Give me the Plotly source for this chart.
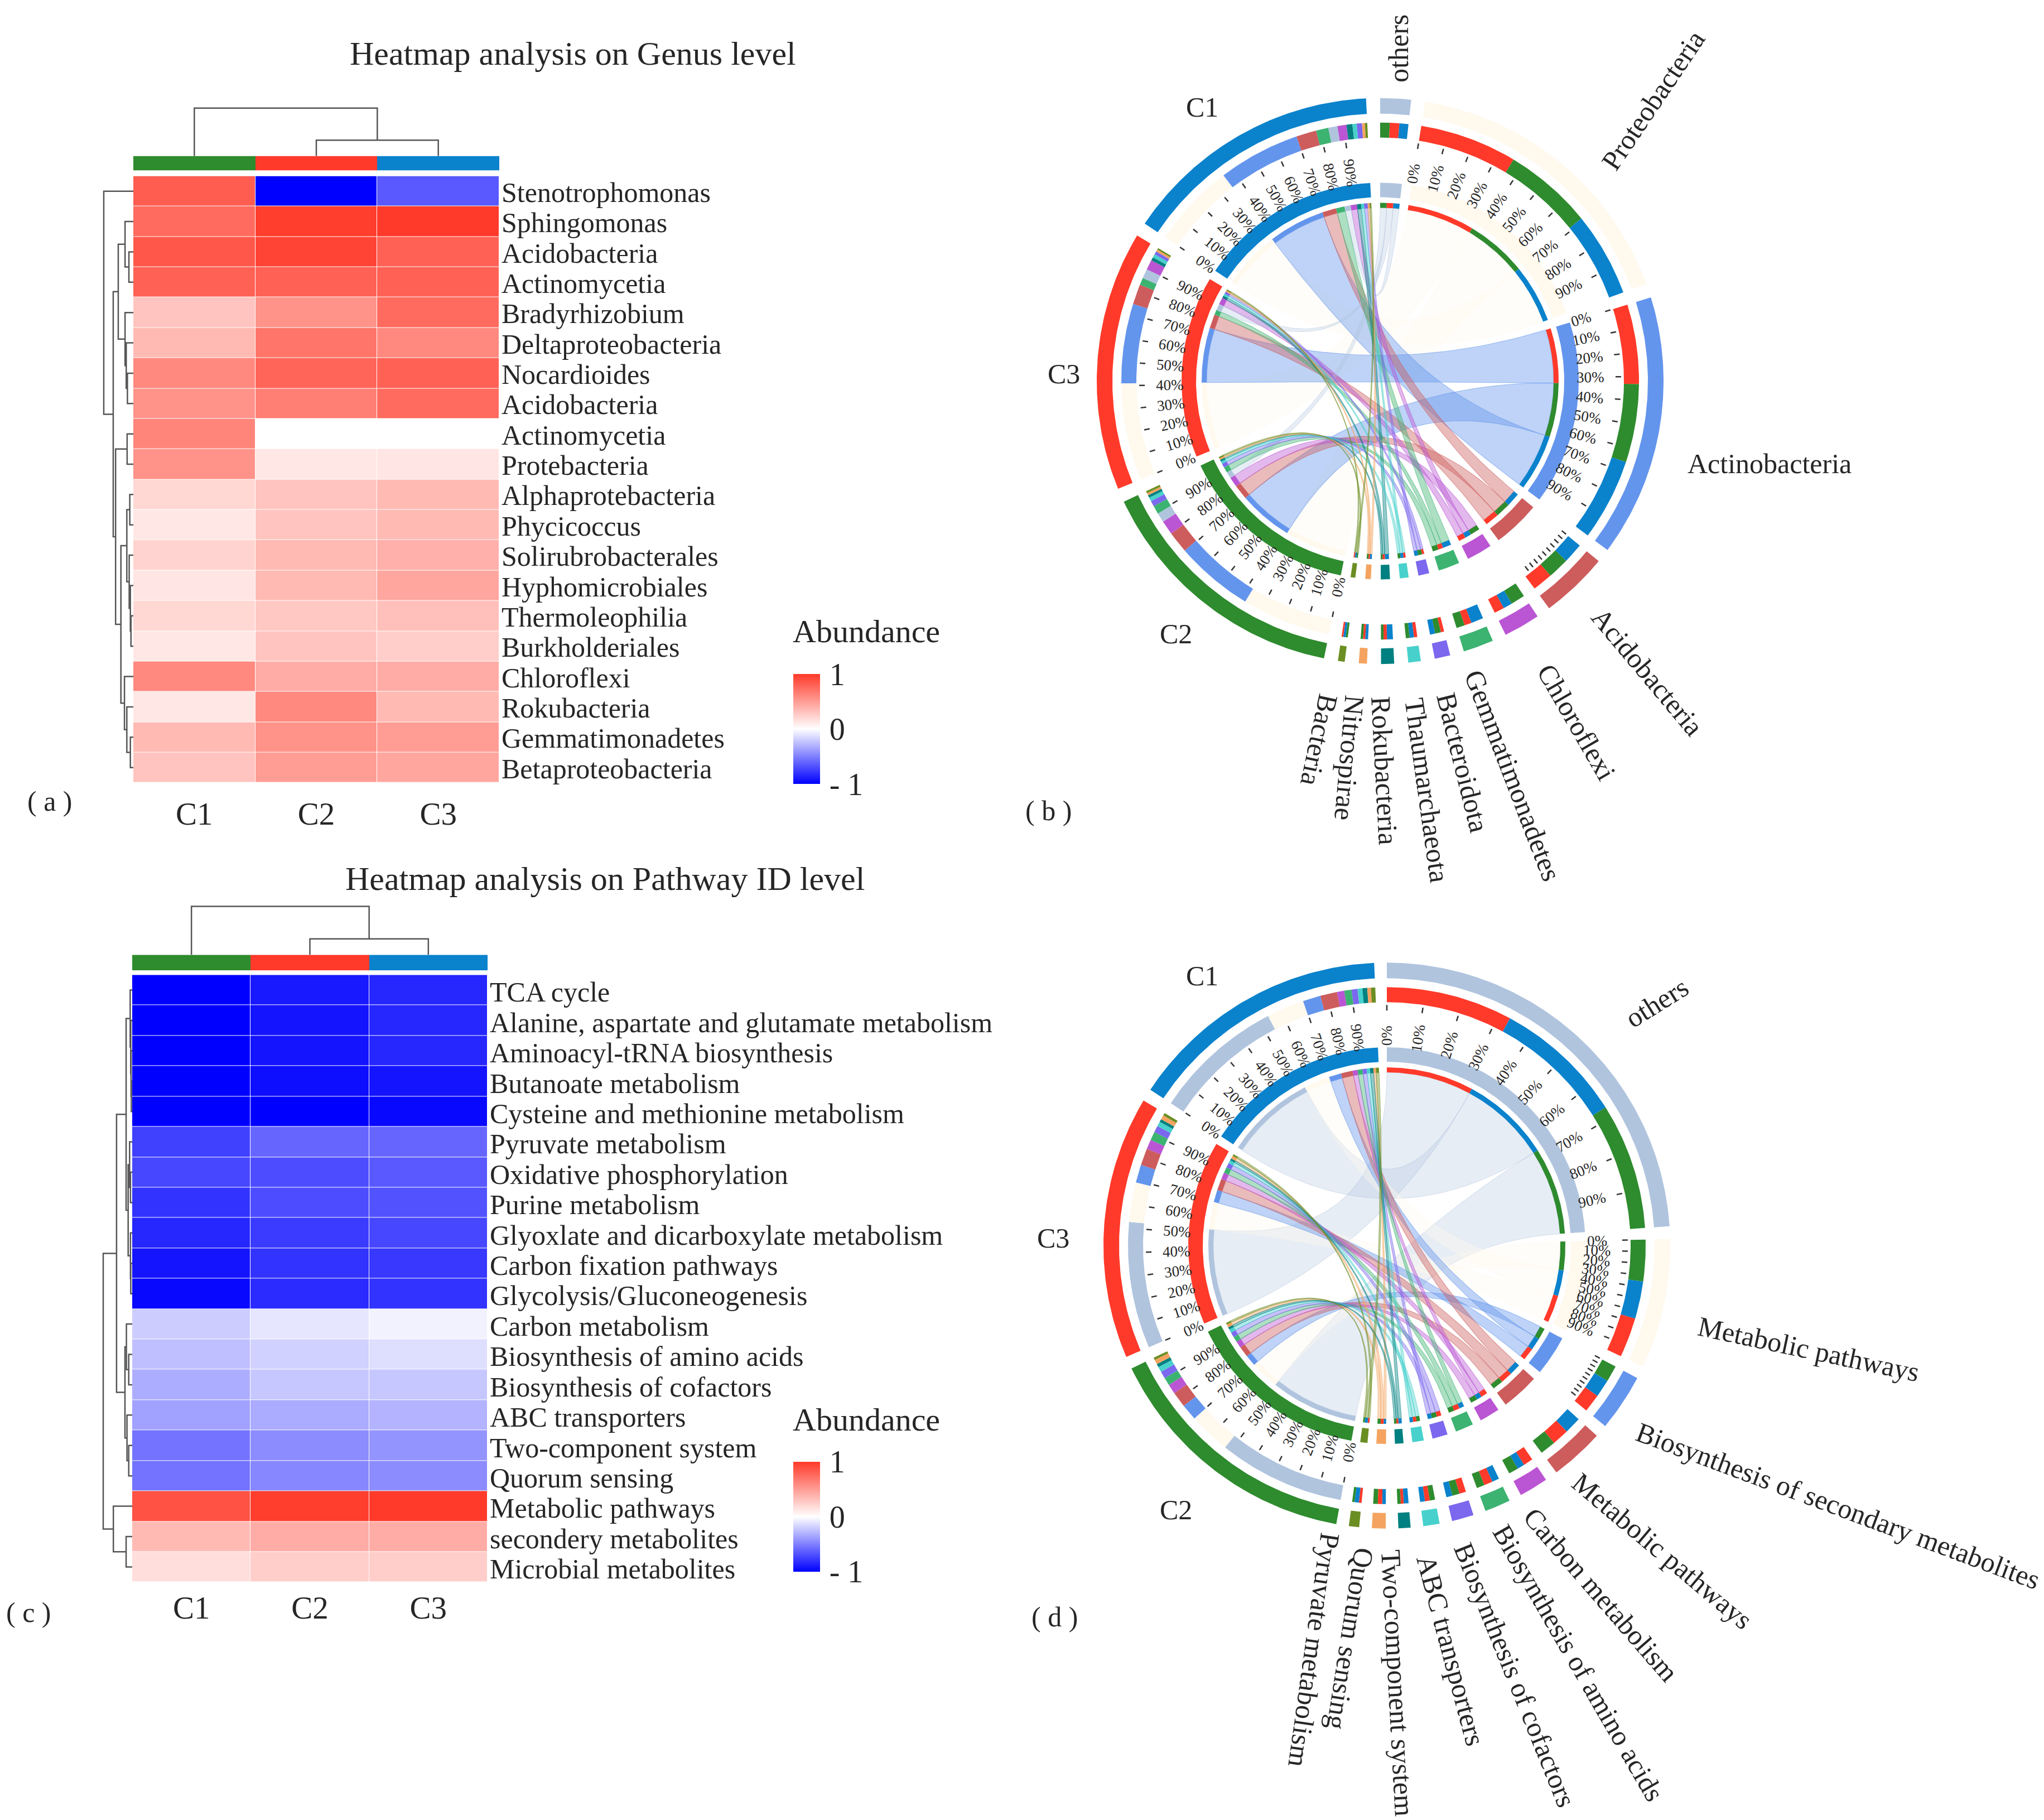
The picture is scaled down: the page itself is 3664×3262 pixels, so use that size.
import math
import plotly.graph_objects as go

W, H = 3664, 3262
FONT = "Liberation Serif"
INK = "#262626"

# ---------------- heatmap data ----------------
genus_rows = ["Stenotrophomonas", "Sphingomonas", "Acidobacteria", "Actinomycetia", "Bradyrhizobium",
              "Deltaproteobacteria", "Nocardioides", "Acidobacteria", "Actinomycetia", "Protebacteria",
              "Alphaprotebacteria", "Phycicoccus", "Solirubrobacterales", "Hyphomicrobiales", "Thermoleophilia",
              "Burkholderiales", "Chloroflexi", "Rokubacteria", "Gemmatimonadetes", "Betaproteobacteria"]
genus_c1 = [.82, .75, .85, .80, .30, .35, .60, .55, .62, .55, .20, .12, .22, .13, .20, .12, .60, .12, .35, .30]
genus_c2 = [-1, .98, .95, .80, .55, .70, .78, .65, 0, .12, .30, .30, .35, .35, .28, .30, .42, .60, .55, .50]
genus_c3 = [-.65, 1, .80, .80, .75, .60, .80, .75, 0, .13, .35, .35, .40, .45, .32, .25, .42, .35, .50, .45]

path_rows = ["TCA cycle", "Alanine, aspartate and glutamate metabolism", "Aminoacyl-tRNA biosynthesis",
             "Butanoate metabolism", "Cysteine and methionine metabolism", "Pyruvate metabolism",
             "Oxidative phosphorylation", "Purine metabolism", "Glyoxlate and dicarboxylate metabolism",
             "Carbon fixation pathways", "Glycolysis/Gluconeogenesis", "Carbon metabolism",
             "Biosynthesis of amino acids", "Biosynthesis of cofactors", "ABC transporters",
             "Two-component system", "Quorum sensing", "Metabolic pathways", "secondery metabolites",
             "Microbial metabolites"]
path_c1 = [-1, -1, -1, -1, -1, -.75, -.72, -.80, -.85, -.92, -.97, -.20, -.25, -.32, -.37, -.55, -.55, .88, .35, .17]
path_c2 = [-.90, -.92, -.92, -.95, -1, -.60, -.70, -.70, -.77, -.80, -.83, -.10, -.18, -.22, -.33, -.45, -.47, .98, .42, .25]
path_c3 = [-.85, -.85, -.85, -.92, -.97, -.60, -.65, -.68, -.72, -.78, -.80, -.05, -.13, -.22, -.30, -.42, -.45, 1, .42, .25]

columns = ["C1", "C2", "C3"]

# (merge height, left, right); leaves are row / column indices
col_tree_a = (1.0, 0, (0.33, 1, 2))
col_tree_c = (1.0, 0, (0.33, 1, 2))
row_tree_a = (1.0, 0, (.68,
                       (.51, (.28, 1, (.15, 2, 3)), (.28, 4, (.24, 5, (.20, 6, 7)))),
                       (.60, (.21, 8, 9),
                        (.42, (.22, (.12, 10, 11), (.14, 12, (.10, 13, (.08, 14, 15)))),
                         (.30, 16, (.22, 17, (.10, 18, 19)))))))
row_tree_c = (1.0,
              (.54,
               (.21,
                (.07, 0, (.05, 1, (.04, 2, (.03, 3, 4)))),
                (.14, (.09, 5, (.06, 6, 7)), (.06, 8, (.05, 9, 10)))),
               (.25, (.20, 11, (.12, 12, 13)), (.18, 14, (.12, 15, 16)))),
              (.65, 17, (.21, 18, 19)))

# ---------------- chord data ----------------
sample_names = ["C2", "C3", "C1"]
sample_colors = {"C1": "#0A82CC", "C2": "#2E8B2E", "C3": "#FF3A2A"}
CREAM = "#FFF9EE"
STEEL = "#B0C4DE"

taxa_b = ["others", "Proteobacteria", "Actinobacteria", "Acidobacteria", "Chloroflexi", "Gemmatimonadetes",
          "Bacteroidota", "Thaumarchaeota", "Rokubacteria", "Nitrospirae", "Bacteria"]
colors_b = [STEEL, CREAM, "#6495ED", "#CD5C5C", "#BA55D3", "#3CB371", "#7B68EE", "#48D1CC", "#008080",
            "#F4A460", "#6B8E23"]
b_c1 = [3.8, 35.5, 34.5, 8.5, 3.8, 5.2, 2.2, 1.8, 2.5, 1.2, 1.0]
b_c2 = [4.0, 37.5, 33.0, 9.0, 6.0, 3.5, 2.4, 1.6, 1.1, 1.0, 0.9]
b_c3 = [4.0, 41.0, 33.5, 8.5, 4.2, 3.0, 1.4, 1.4, 1.4, 0.9, 0.7]
# clockwise order inside each sector
b_order_taxon = [["C2", "C3", "C1"], ["C3", "C2", "C1"], ["C3", "C2", "C1"], ["C1", "C2", "C3"],
                 ["C2", "C1", "C3"], ["C1", "C3", "C2"], ["C3", "C2", "C1"], ["C3", "C1", "C2"],
                 ["C1", "C3", "C2"], ["C1", "C3", "C2"], ["C2", "C1", "C3"]]
b_order_sample = {
    "C1": ["Proteobacteria", "Actinobacteria", "Acidobacteria", "Gemmatimonadetes", "others", "Chloroflexi",
           "Rokubacteria", "Thaumarchaeota", "Bacteroidota", "Nitrospirae", "Bacteria"],
    "C2": ["Proteobacteria", "Actinobacteria", "Acidobacteria", "Chloroflexi", "others", "Gemmatimonadetes",
           "Bacteroidota", "Thaumarchaeota", "Rokubacteria", "Nitrospirae", "Bacteria"],
    "C3": ["Proteobacteria", "Actinobacteria", "Acidobacteria", "Gemmatimonadetes", "others", "Chloroflexi",
           "Rokubacteria", "Thaumarchaeota", "Bacteroidota", "Nitrospirae", "Bacteria"]}

taxa_d = ["others", "Metabolic pathways", "Biosynthesis of secondary metabolites", "Metabolic pathways ",
          "Carbon metabolism", "Biosynthesis of amino acids", "Biosynthesis of cofactors", "ABC transporters",
          "Two-component system", "Quorum sensing", "Pyruvate metabolism"]
colors_d = [STEEL, CREAM, "#6495ED", "#CD5C5C", "#BA55D3", "#3CB371", "#7B68EE", "#48D1CC", "#008080",
            "#F4A460", "#6B8E23"]
d_c1 = [54.2, 15.6, 7.4, 7.0, 3.0, 3.0, 2.5, 2.0, 2.0, 1.5, 1.8]
d_c2 = [52.6, 17.3, 6.8, 6.5, 4.0, 3.3, 3.0, 2.2, 1.4, 1.9, 1.0]
d_c3 = [52.6, 16.5, 7.5, 7.0, 4.0, 3.5, 2.8, 2.0, 1.2, 1.8, 1.1]
d_order_taxon = [["C3", "C1", "C2"], ["C2", "C1", "C3"], ["C2", "C1", "C3"], ["C1", "C3", "C2"],
                 ["C3", "C1", "C2"], ["C1", "C3", "C2"], ["C3", "C2", "C1"], ["C2", "C3", "C1"],
                 ["C1", "C3", "C2"], ["C1", "C3", "C2"], ["C3", "C1", "C2"]]
d_order = list(taxa_d)

# ---------------- layout constants ----------------
def frac_x(px):
    return px / W

def frac_y(py):
    return 1 - py / H

fig = go.Figure()
annotations = []

def text(x, y, s, size, angle=0, color=INK):
    annotations.append(dict(x=x, y=y, xref="x", yref="y", text=s, showarrow=False, textangle=angle,
                            font=dict(family=FONT, size=size, color=color),
                            xanchor="center", yanchor="middle"))

# overlay axes in page pixels
xaxis_overlay = dict(range=[0, W], domain=[0, 1], visible=False, fixedrange=True)
yaxis_overlay = dict(range=[H, 0], domain=[0, 1], visible=False, fixedrange=True)

RW = [[0, "#0000FF"], [0.5, "#FFFFFF"], [1, "#FF3A2A"]]
BAR = [[0, sample_colors["C2"]], [0.5, sample_colors["C3"]], [1, sample_colors["C1"]]]

def dendro(node, leaf_pos, height_to_px, vertical_root):
    xs, ys = [], []
    def rec(n):
        if isinstance(n, int):
            return leaf_pos(n), height_to_px(0)
        h, l, r = n
        p1, q1 = rec(l)
        p2, q2 = rec(r)
        q = height_to_px(h)
        if vertical_root:
            xs.extend([p1, p1, p2, p2, None]); ys.extend([q1, q, q, q2, None])
        else:
            xs.extend([q1, q, q, q2, None]); ys.extend([p1, p1, p2, p2, None])
        return (p1 + p2) / 2, q
    rec(node)
    return xs, ys

def heat_panel(idx, rows, c1, c2, c3, x0, x1, bar_y0, bar_y1, y0, y1, top_h, col_tree, row_tree, root_w,
               cbar_y0, cbar_y1, row_nudge, col_len, col_standoff):
    ax_h = idx
    ax_b = idx + 1
    z = [[a, b, c] for a, b, c in zip(c1, c2, c3)]
    ypos = list(range(len(rows)))
    fig.add_trace(go.Heatmap(
        z=z, x=columns, y=ypos, xaxis=f"x{ax_h}", yaxis=f"y{ax_h}", zmin=-1, zmax=1, colorscale=RW,
        xgap=1, ygap=1, hoverinfo="skip",
        colorbar=dict(x=frac_x(1422), xanchor="left", y=frac_y((cbar_y0 + cbar_y1) / 2), yanchor="middle",
                      len=cbar_y1 - cbar_y0, lenmode="pixels", thickness=48, thicknessmode="pixels",
                      outlinewidth=0, tickvals=[-1, 0, 1], ticktext=["- 1", "0", "1"], ticks="outside",
                      ticklen=6, tickcolor="rgba(0,0,0,0)", xpad=0, ypad=0,
                      tickfont=dict(family=FONT, size=56, color=INK))))
    fig.update_layout({
        f"xaxis{ax_h}": dict(domain=[frac_x(x0), frac_x(x1)], anchor=f"y{ax_h}", side="bottom", showgrid=False,
                             zeroline=False, showline=False, ticks="outside", ticklen=col_len,
                             ticklabelstandoff=col_standoff,
                             tickcolor="rgba(0,0,0,0)", fixedrange=True,
                             tickfont=dict(family=FONT, size=57, color=INK)),
        f"yaxis{ax_h}": dict(domain=[frac_y(y1), frac_y(y0)], anchor=f"x{ax_h}", side="right", showgrid=False,
                             zeroline=False, showline=False, autorange="reversed", tickmode="array",
                             tickvals=[p + row_nudge for p in ypos], ticktext=rows, ticks="",
                             ticklabelstandoff=3, fixedrange=True,
                             tickfont=dict(family=FONT, size=50, color=INK)),
    })
    fig.add_trace(go.Heatmap(
        z=[[0, 1, 2]], x=columns, y=["group"], xaxis=f"x{ax_b}", yaxis=f"y{ax_b}", zmin=0, zmax=2,
        colorscale=BAR, showscale=False, hoverinfo="skip"))
    fig.update_layout({
        f"xaxis{ax_b}": dict(domain=[frac_x(x0), frac_x(x1)], anchor=f"y{ax_b}", visible=False, fixedrange=True),
        f"yaxis{ax_b}": dict(domain=[frac_y(bar_y1), frac_y(bar_y0)], anchor=f"x{ax_b}", visible=False,
                             fixedrange=True),
    })
    cw = (x1 - x0) / 3
    rh = (y1 - y0) / len(rows)
    xs, ys = dendro(col_tree, lambda i: x0 + cw * (i + .5), lambda h: bar_y0 - h * (bar_y0 - top_h), True)
    fig.add_trace(go.Scatter(x=xs, y=ys, mode="lines", line=dict(color="#555555", width=2.5), hoverinfo="skip",
                             showlegend=False))
    xs, ys = dendro(row_tree, lambda i: y0 + rh * (i + .5), lambda h: x0 - h * root_w, False)
    fig.add_trace(go.Scatter(x=xs, y=ys, mode="lines", line=dict(color="#555555", width=2.5), hoverinfo="skip",
                             showlegend=False))

heat_panel(2, genus_rows, genus_c1, genus_c2, genus_c3, 239, 895, 280, 306, 316, 1405, 194, col_tree_a,
           row_tree_a, 53, 1210, 1407, .03, 6, 0)
heat_panel(4, path_rows, path_c1, path_c2, path_c3, 237, 874, 1714, 1742, 1750, 2840, 1627, col_tree_c,
           row_tree_c, 52, 2624, 2821, .06, 0, -4)

# ---------------- chord panels ----------------
R_OUT = (480, 508)
R_COMP = (437, 464)
R_TICK = (422, 432)
R_LABEL = 377
R_INNER = (330, 356)
R_THIN = (311, 320)

def pt(cx, cy, r, th):
    a = math.radians(th)
    return cx + r * math.sin(a), cy - r * math.cos(a)

def arc(cx, cy, r, t0, t1):
    n = max(2, int(abs(t1 - t0) / 0.7) + 2)
    return [pt(cx, cy, r, t0 + (t1 - t0) * i / (n - 1)) for i in range(n)]

def band(cx, cy, rr, t0, t1, color):
    p = arc(cx, cy, rr[1], t0, t1) + arc(cx, cy, rr[0], t1, t0)
    fig.add_trace(go.Scatter(x=[q[0] for q in p] + [p[0][0]], y=[q[1] for q in p] + [p[0][1]], mode="lines",
                             fill="toself", fillcolor=color, line=dict(width=0, color=color), hoverinfo="skip",
                             showlegend=False))

def rgba(c, a):
    return f"rgba({int(c[1:3], 16)},{int(c[3:5], 16)},{int(c[5:7], 16)},{a})"

def bez(cx, cy, r, t0, t1):
    p0 = pt(cx, cy, r, t0)
    p2 = pt(cx, cy, r, t1)
    out = []
    for i in range(1, 40):
        u = i / 40
        out.append(((1 - u) ** 2 * p0[0] + 2 * u * (1 - u) * cx + u * u * p2[0],
                    (1 - u) ** 2 * p0[1] + 2 * u * (1 - u) * cy + u * u * p2[1]))
    return out

def ribbon(cx, cy, s0, s1, t0, t1, color):
    r = R_THIN[0]
    alpha = {CREAM: .35, STEEL: .3}.get(color, .42)
    p = arc(cx, cy, r, s0, s1) + bez(cx, cy, r, s1, t0) + arc(cx, cy, r, t0, t1) + bez(cx, cy, r, t1, s0)
    p.append(p[0])
    fig.add_trace(go.Scatter(x=[q[0] for q in p], y=[q[1] for q in p], mode="lines", fill="toself",
                             fillcolor=rgba(color, alpha), line=dict(width=1.2, color=rgba(color, alpha + .1)),
                             hoverinfo="skip", showlegend=False))

def tick_rot(th):
    th %= 360
    return th - 90 if th <= 180 else th - 270

def chord(cx, cy, taxa, colors, c1, c2, c3, order_taxon, order_sample, unit):
    vals = {"C1": c1, "C2": c2, "C3": c3}
    sizes = [vals["C1"][i] + vals["C2"][i] + vals["C3"][i] for i in range(len(taxa))]
    totals = {k: sum(v) for k, v in vals.items()}
    gap = (360 - unit * (sum(sizes) + sum(totals.values()))) / (len(taxa) + 3)
    th = 0.0
    spans = {}
    for name, size in zip(taxa, sizes):
        spans[name] = (th, th + size * unit)
        th += size * unit + gap
    for s in sample_names:
        spans[s] = (th, th + totals[s] * unit)
        th += totals[s] * unit + gap
    col = dict(zip(taxa, colors))
    col.update(sample_colors)
    # link end segments
    seg_t, seg_s = {}, {}
    for i, name in enumerate(taxa):
        a = spans[name][0]
        for s in order_taxon[i]:
            w = vals[s][i] * unit
            seg_t[(name, s)] = (a, a + w)
            a += w
    for s in sample_names:
        a = spans[s][0]
        for name in order_sample[s]:
            w = vals[s][taxa.index(name)] * unit
            seg_s[(name, s)] = (a, a + w)
            a += w
    # ribbons first, so tracks sit on top
    link_order = sorted(taxa, key=lambda n: -sizes[taxa.index(n)])
    for name in link_order:
        for s in ["C1", "C2", "C3"]:
            ribbon(cx, cy, *seg_s[(name, s)], *seg_t[(name, s)], col[name])
    # tracks
    for name in list(taxa) + sample_names:
        t0, t1 = spans[name]
        band(cx, cy, R_OUT, t0, t1, col[name])
        band(cx, cy, R_INNER, t0, t1, col[name])
    for (name, s), (t0, t1) in seg_t.items():
        band(cx, cy, R_COMP, t0, t1, col[s])
        band(cx, cy, R_THIN, t0, t1, col[s])
    for (name, s), (t0, t1) in seg_s.items():
        band(cx, cy, R_COMP, t0, t1, col[name])
        band(cx, cy, R_THIN, t0, t1, col[name])
    # ticks
    xs, ys = [], []
    for name in list(taxa) + sample_names:
        t0, t1 = spans[name]
        w = t1 - t0
        if w < 11.2:
            continue
        for k in range(10):
            a = t0 + w * k / 10
            p, q = pt(cx, cy, R_TICK[0], a), pt(cx, cy, R_TICK[1], a)
            xs += [p[0], q[0], None]
            ys += [p[1], q[1], None]
            if w > 20:
                lx, ly = pt(cx, cy, R_LABEL, a)
                text(lx, ly, f"{k * 10}%", 27, tick_rot(a))
    fig.add_trace(go.Scatter(x=xs, y=ys, mode="lines", line=dict(color="#333333", width=2.5), hoverinfo="skip",
                             showlegend=False))

chord(2474, 684, taxa_b, colors_b, b_c1, b_c2, b_c3, b_order_taxon, b_order_sample, 0.5333)
chord(2486, 2236, taxa_d, colors_d, d_c1, d_c2, d_c3, d_order_taxon,
      {"C1": d_order, "C2": d_order, "C3": d_order}, 0.54)

# ---------------- text ----------------
TITLE_SIZE = 60
text(1027, 96, "Heatmap analysis on Genus level", TITLE_SIZE)
text(1084, 1577, "Heatmap analysis on Pathway ID level", TITLE_SIZE)
for s, x, y in [("( a )", 89, 1438), ("( b )", 1879, 1455), ("( c )", 51, 2894), ("( d )", 1890, 2902)]:
    text(x, y, s, 50)
for y in (1133, 2548):
    text(1553, y, "Abundance", 58)

labels_b = [("others", 2507, 87, -90), ("Proteobacteria", 2963, 180, -56), ("Actinobacteria", 3172, 832, 0),
            ("Acidobacteria", 2953, 1206, 50), ("Chloroflexi", 2826, 1296, 60), ("Gemmatimonadetes", 2712, 1392, 69),
            ("Bacteroidota", 2622, 1368, 76), ("Thaumarchaeota", 2558, 1418, 82), ("Rokubacteria", 2482, 1383, 87),
            ("Nitrospirae", 2419, 1360, 95), ("Bacteria", 2365, 1328, 102),
            ("C1", 2155, 192, 0), ("C3", 1907, 671, 0), ("C2", 2108, 1138, 0)]
labels_d = [("others", 2970, 1800, -32), ("Metabolic pathways", 3242, 2422, 12),
            ("Biosynthesis of secondary metabolites", 3295, 2703, 20.5), ("Metabolic pathways", 2980, 2784, 40),
            ("Carbon metabolism", 2870, 2862, 49), ("Biosynthesis of amino acids", 2829, 2985, 60),
            ("Biosynthesis of cofactors", 2715, 3006, 68), ("ABC transporters", 2600, 2962, 75),
            ("Two-component system", 2505, 3021, 87), ("Quorum sensing", 2420, 2941, 99),
            ("Pyruvate metabolism", 2355, 2962, 98),
            ("C1", 2155, 1752, 0), ("C3", 1888, 2222, 0), ("C2", 2108, 2710, 0)]
for s, x, y, a in labels_b + labels_d:
    text(x, y, s, 50, a)

fig.update_layout(width=W, height=H, margin=dict(l=0, r=0, t=0, b=0), autosize=False,
                  paper_bgcolor="white", plot_bgcolor="rgba(0,0,0,0)", showlegend=False,
                  xaxis=xaxis_overlay, yaxis=yaxis_overlay, annotations=annotations)

fig.write_html("out.html", config={"displayModeBar": False},
               post_script="document.body.style.margin='0';document.body.style.overflow='hidden';")
